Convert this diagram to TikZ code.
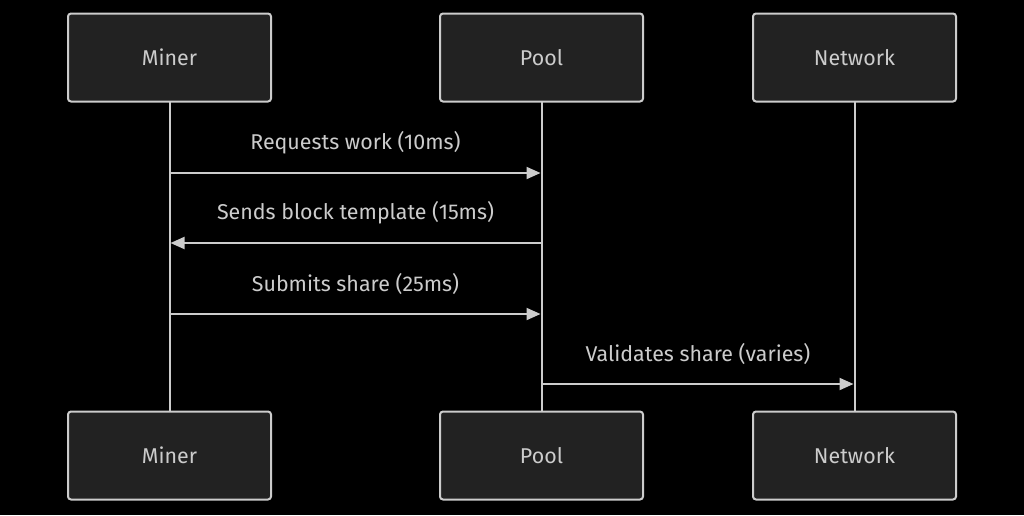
\documentclass[tikz,border=0pt]{standalone}
\usepackage{fontspec}
\setmainfont{Fira Sans}
\usetikzlibrary{arrows.meta}
\definecolor{boxfill}{HTML}{222222}
\definecolor{fg}{HTML}{CCCCCC}
\begin{document}
\begin{tikzpicture}[x=1pt,y=-1pt,
  actor/.style={draw=fg,fill=boxfill,line width=2pt,rounded corners=3pt,minimum width=203pt,minimum height=88pt,text=fg,font=\fontsize{21.4}{25}\selectfont,inner sep=0pt},
  life/.style={draw=fg,line width=2pt},
  msg/.style={draw=fg,line width=2pt,-{Triangle[length=14pt,width=12pt]},shorten >=1pt},
  lbl/.style={text=fg,font=\fontsize{21.4}{25}\selectfont,inner sep=0pt}]
\fill[black] (0,0) rectangle (1024,515);
\useasboundingbox (0,0) rectangle (1024,515);
\draw[life] (169.5,101) coordinate (mt) -- (169.5,411) coordinate (mb);
\draw[life] (541.5,101) -- (541.5,411);
\draw[life] (854.5,101) -- (854.5,411);
\node[actor] (m1) at (169.5,57.5) {Miner};
\node[actor] (p1) at (541.5,57.5) {Pool};
\node[actor] (n1) at (854.5,57.5) {Network};
\node[actor] (m2) at (169.5,455.5) {Miner};
\node[actor] (p2) at (541.5,455.5) {Pool};
\node[actor] (n2) at (854.5,455.5) {Network};
\coordinate (ma) at (169.5,173); \coordinate (pa) at (541.5,173);
\coordinate (mb2) at (169.5,243); \coordinate (pb) at (541.5,243);
\coordinate (mc) at (169.5,314); \coordinate (pc) at (541.5,314);
\coordinate (pd) at (541.5,384); \coordinate (nd) at (854.5,384);
\draw[msg] (ma) -- (pa);
\draw[msg] (pb) -- (mb2);
\draw[msg] (mc) -- (pc);
\draw[msg] (pd) -- (nd);
\node[lbl] (l1) at (355.5,143) {Requests work (10ms)};
\node[lbl] (l2) at (355.5,213) {Sends block template (15ms)};
\node[lbl] (l3) at (355.5,284) {Submits share (25ms)};
\node[lbl] (l4) at (698,354) {Validates share (varies)};
\end{tikzpicture}
\end{document}
